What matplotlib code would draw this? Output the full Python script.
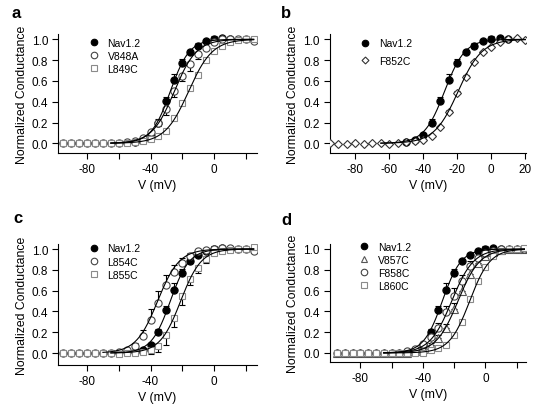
import numpy as np
import matplotlib
matplotlib.use("Agg")
import matplotlib.pyplot as plt
from matplotlib.lines import Line2D

plt.rcParams['font.family'] = ['Liberation Sans', 'DejaVu Sans']
plt.rcParams['font.size'] = 8

# voltage steps (mV)
volts = [-95, -90, -85, -80, -75, -70, -65, -60, -55, -50, -45, -40, -35,
         -30, -25, -20, -15, -10, -5, 0, 5, 10, 15, 20, 25]
volts_b = volts[:-1]

# wild type, shared by all panels
nav_v = [-50, -45, -40, -35, -30, -25, -20, -15, -10, -5, 0, 5, 10]
nav_g = [0.01, 0.03, 0.08, 0.20, 0.41, 0.61, 0.77, 0.88, 0.94, 0.98, 1.00, 1.01, 1.00]
nav_err = [0, 0, 0.01, 0.03, 0.04, 0.06, 0.04, 0.02, 0.02, 0.01, 0.03, 0.01, 0.01]
nav_fit = (-27.5, 6.0)

# panel a
v848a_g = [0, 0, 0, 0, 0, 0, 0, 0, 0.01, 0.02, 0.05, 0.11, 0.20, 0.33, 0.50,
           0.65, 0.76, 0.86, 0.92, 0.97, 1.00, 1.00, 1.00, 1.00, 0.98]
v848a_err = [0, 0, 0, 0, 0, 0, 0, 0, 0, 0, 0, 0.01, 0.03, 0.06, 0.05,
             0.05, 0.06, 0.05, 0.02, 0.01, 0, 0, 0, 0, 0.01]
v848a_fit = (-25.0, 7.0)
l849c_g = [0, 0, 0, 0, 0, 0, 0, 0, 0, 0.01, 0.02, 0.04, 0.07, 0.12, 0.24,
           0.385, 0.535, 0.66, 0.80, 0.885, 0.94, 0.97, 0.99, 1.00, 1.00]
l849c_fit = (-16.0, 7.5)

# panel b
f852c_g = [0, -0.01, -0.01, 0, -0.01, 0, 0, -0.01, 0, 0.01, 0.02, 0.03, 0.07,
           0.16, 0.30, 0.48, 0.64, 0.785, 0.88, 0.93, 0.97, 1.00, 1.01, 0.99]
f852c_err = [0, 0, 0, 0, 0, 0, 0, 0, 0, 0, 0, 0, 0.01, 0.01, 0.02, 0.02,
             0.02, 0.01, 0.01, 0.01, 0, 0, 0, 0]
f852c_fit = (-19.5, 7.0)

# panel c
l854c_g = [0, 0, 0, 0, 0, 0, 0, 0.01, 0.03, 0.07, 0.16, 0.32, 0.48, 0.65, 0.78,
           0.865, 0.93, 0.98, 0.99, 1.00, 1.01, 1.01, 1.00, 1.00, 0.98]
l854c_err = [0, 0, 0, 0, 0, 0, 0, 0, 0, 0.03, 0.06, 0.10, 0.12, 0.10, 0.07,
             0.05, 0.03, 0.02, 0.01, 0.01, 0, 0, 0.02, 0, 0.02]
l854c_fit = (-35.5, 6.8)
l855c_g = [0, 0, 0, 0, 0, 0, 0, -0.01, 0, 0, 0.01, 0.03, 0.07, 0.17, 0.34,
           0.545, 0.71, 0.82, 0.90, 0.96, 0.98, 0.99, 1.00, 1.00, 1.02]
l855c_err = [0, 0, 0, 0, 0, 0, 0, 0, 0, 0, 0.02, 0.04, 0.06, 0.09, 0.09,
             0.08, 0.06, 0.05, 0.03, 0.02, 0.01, 0.01, 0.03, 0.02, 0.04]
l855c_fit = (-21.0, 6.5)

# panel d
v857c_g = [0, 0, 0, 0, 0, 0, 0, 0, 0, 0, 0.02, 0.04, 0.08, 0.14, 0.24,
           0.42, 0.60, 0.76, 0.87, 0.93, 0.97, 0.99, 1.00, 1.00, 1.00]
v857c_err = [0, 0, 0, 0, 0, 0, 0, 0, 0, 0, 0, 0.01, 0.02, 0.03, 0.04,
             0.06, 0.07, 0.06, 0.05, 0.02, 0.01, 0, 0, 0, 0]
v857c_fit = (-17.5, 7.0)
f858c_g = [0, 0, 0, 0, 0, 0, 0, 0, 0, 0.02, 0.04, 0.09, 0.15, 0.24, 0.39,
           0.55, 0.69, 0.84, 0.91, 0.96, 0.98, 1.00, 1.00, 1.00, 1.00]
f858c_err = [0, 0, 0, 0, 0, 0, 0, 0, 0, 0, 0, 0.01, 0.02, 0.05, 0.06,
             0.07, 0.06, 0.04, 0.02, 0.01, 0, 0, 0, 0, 0]
f858c_fit = (-21.5, 7.0)
l860c_g = [0, 0, 0, 0, 0, 0, 0, 0, 0, 0, 0, 0, 0.03, 0.045, 0.08, 0.17,
           0.30, 0.52, 0.69, 0.83, 0.93, 0.98, 1.00, 1.00, 1.01]
l860c_fit = (-10.0, 6.5)

W, H = 538, 410
fig = plt.figure(figsize=(W / 100, H / 100), dpi=100)


def px_axes(x0, x1, ytop, ybot):
    return fig.add_axes([x0 / W, 1 - ybot / H, (x1 - x0) / W, (ybot - ytop) / H])


def boltz(v, p):
    return 1.0 / (1.0 + np.exp((p[0] - v) / p[1]))


def draw(ax, v, g, fit, marker, face, edge, ms, err=None, down=False, fit_lo=-65):
    v = np.asarray(v, float)
    g = np.asarray(g, float)
    if err is not None:
        e = np.asarray(err, float)
        yerr = [e, np.zeros_like(e)] if down else [np.zeros_like(e), e]
        ax.errorbar(v, g, yerr=yerr, fmt='none', ecolor='black', elinewidth=0.8,
                    capsize=2, capthick=0.8, zorder=2)
    ax.plot(v, g, linestyle='none', marker=marker, ms=ms, mfc=face, mec=edge,
            mew=0.8, zorder=3)
    vv = np.linspace(fit_lo, 25, 300)
    ax.plot(vv, boltz(vv, fit), color='black', lw=0.8, zorder=4)


def style(ax, xlim, ylim, xticks, xlabels):
    ax.set_xlim(*xlim)
    ax.set_ylim(*ylim)
    ax.set_xticks(xticks)
    ax.set_xticklabels(xlabels)
    ax.set_yticks([0, 0.2, 0.4, 0.6, 0.8, 1.0])
    ax.set_yticklabels(['0.0', '0.2', '0.4', '0.6', '0.8', '1.0'])
    for s in ('top', 'right'):
        ax.spines[s].set_visible(False)
    for s in ('left', 'bottom'):
        ax.spines[s].set_linewidth(0.8)
    ax.tick_params(direction='out', length=4, width=0.8, labelsize=8.5, pad=3)
    ax.set_xlabel('V (mV)', fontsize=8.8, labelpad=3)
    ax.set_ylabel('Normalized Conductance', fontsize=8.8, labelpad=3)


def legend(ax, entries, x, y, spacing):
    handles = [Line2D([], [], linestyle='none', marker=m, ms=ms - 0.5, mfc=f, mec=e, mew=0.8)
               for m, f, e, ms in entries[1]]
    ax.legend(handles, entries[0], loc='upper left', bbox_to_anchor=(x, y),
              frameon=False, handlelength=1.0, handletextpad=0.8,
              labelspacing=spacing, borderpad=0, borderaxespad=0, fontsize=7.5)


ticks_short = [-80, -60, -40, -20, 0, 20]
labels_short = ['-80', '', '-40', '', '0', '']

nav_style = ('o', 'black', 'black', 5.2)
circ_style = ('o', 'white', '#444444', 5.2)
sq_style = ('s', 'white', '#8a8a8a', 4.8)
dia_style = ('D', 'white', '#333333', 4.0)
tri_style = ('^', 'white', '#555555', 5.2)

# a
ax = px_axes(58, 257, 35.1, 154)
draw(ax, nav_v, nav_g, nav_fit, *nav_style, err=nav_err)
draw(ax, volts, v848a_g, v848a_fit, *circ_style, err=v848a_err, down=True)
draw(ax, volts, l849c_g, l849c_fit, *sq_style)
style(ax, (-98.3, 27.1), (-0.093, 1.05), ticks_short, labels_short)
legend(ax, (['Nav1.2', 'V848A', 'L849C'], [nav_style, circ_style, sq_style]),
       0.155, 0.97, 0.28)

# b
ax = px_axes(329.7, 526.3, 35.1, 154)
draw(ax, nav_v, nav_g, nav_fit, *nav_style, err=nav_err)
draw(ax, volts_b, f852c_g, f852c_fit, *dia_style, err=f852c_err)
style(ax, (-95.1, 20.6), (-0.093, 1.05), [-80, -60, -40, -20, 0, 20],
      ['-80', '-60', '-40', '-20', '0', '20'])
legend(ax, (['Nav1.2', 'F852C'], [nav_style, dia_style]), 0.155, 0.965, 0.75)

# c
ax = px_axes(58, 257, 244.8, 366)
draw(ax, nav_v, nav_g, nav_fit, *nav_style, err=nav_err)
draw(ax, volts, l854c_g, l854c_fit, *circ_style, err=l854c_err, fit_lo=-70)
draw(ax, volts, l855c_g, l855c_fit, *sq_style, err=l855c_err, down=True)
style(ax, (-98.3, 27.1), (-0.115, 1.05), ticks_short, labels_short)
legend(ax, (['Nav1.2', 'L854C', 'L855C'], [nav_style, circ_style, sq_style]),
       0.155, 1.005, 0.33)

# d
ax = px_axes(329.7, 526.3, 244.8, 363.3)
draw(ax, nav_v, nav_g, nav_fit, *nav_style, err=nav_err)
draw(ax, volts, v857c_g, v857c_fit, *tri_style, err=v857c_err)
draw(ax, volts, f858c_g, f858c_fit, *circ_style, err=f858c_err)
draw(ax, volts, l860c_g, l860c_fit, *sq_style)
style(ax, (-99.6, 26.2), (-0.09, 1.05), ticks_short, labels_short)
legend(ax, (['Nav1.2', 'V857C', 'F858C', 'L860C'],
            [nav_style, tri_style, circ_style, sq_style]), 0.15, 1.015, 0.28)

for lab, x, y in (('a', 12, 18.5), ('b', 281, 18.5), ('c', 13, 223.5), ('d', 281, 225)):
    fig.text(x / W, 1 - y / H, lab, fontsize=12, fontweight='bold',
             ha='left', va='baseline')

fig.savefig('out.png', dpi=100)
